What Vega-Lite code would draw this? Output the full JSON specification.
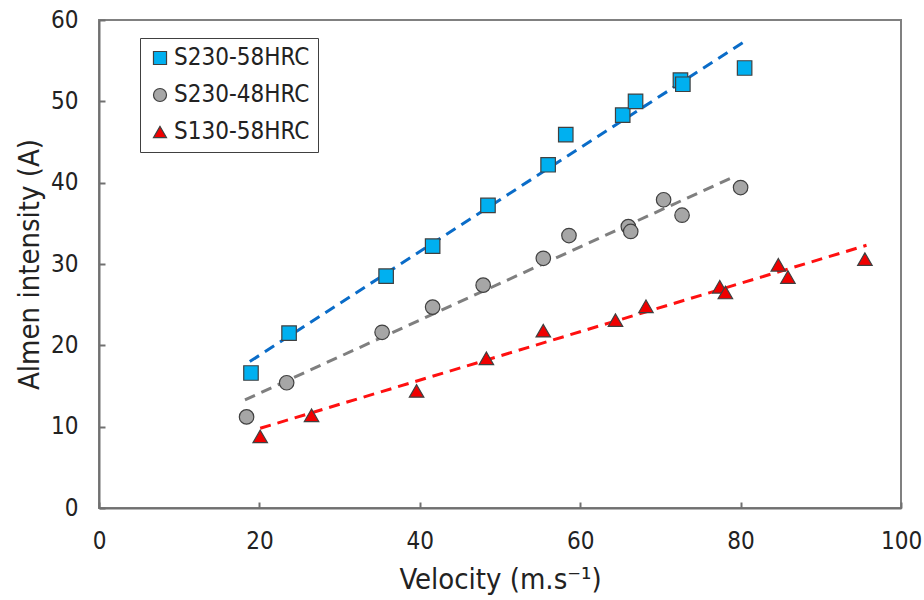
{
  "$schema": "https://vega.github.io/schema/vega-lite/v6.json",
  "width": 802,
  "height": 488,
  "autosize": {"type": "none"},
  "padding": {"left": 99, "top": 20, "right": 23, "bottom": 92},
  "background": "white",
  "config": {
    "view": {"stroke": "#808080", "strokeWidth": 2},
    "font": "DejaVu Sans Condensed",
    "axis": {
      "labelFont": "DejaVu Sans Condensed",
      "labelFontSize": 24,
      "labelColor": "#222222",
      "labelFlush": false,
      "titleFont": "DejaVu Sans Condensed",
      "titleFontSize": 29,
      "titleFontWeight": "normal",
      "titleColor": "#222222",
      "domainColor": "#707070",
      "domainWidth": 2,
      "tickColor": "#707070",
      "tickWidth": 2,
      "tickSize": -6,
      "grid": false
    },
    "legend": {
      "labelFont": "DejaVu Sans Condensed",
      "labelFontSize": 24,
      "labelColor": "#222222"
    }
  },
  "datasets": {
    "pts": [
      {"series": "S230-58HRC", "v": 18.95, "a": 16.6},
      {"series": "S230-58HRC", "v": 23.7, "a": 21.5},
      {"series": "S230-58HRC", "v": 35.8, "a": 28.5},
      {"series": "S230-58HRC", "v": 41.6, "a": 32.2},
      {"series": "S230-58HRC", "v": 48.5, "a": 37.2},
      {"series": "S230-58HRC", "v": 56.0, "a": 42.2},
      {"series": "S230-58HRC", "v": 58.2, "a": 45.9},
      {"series": "S230-58HRC", "v": 65.3, "a": 48.3},
      {"series": "S230-58HRC", "v": 66.9, "a": 50.0},
      {"series": "S230-58HRC", "v": 72.5, "a": 52.6},
      {"series": "S230-58HRC", "v": 72.8, "a": 52.1},
      {"series": "S230-58HRC", "v": 80.5, "a": 54.1},
      {"series": "S230-48HRC", "v": 18.4, "a": 11.2},
      {"series": "S230-48HRC", "v": 23.4, "a": 15.4},
      {"series": "S230-48HRC", "v": 35.3, "a": 21.6},
      {"series": "S230-48HRC", "v": 41.6, "a": 24.7},
      {"series": "S230-48HRC", "v": 47.9, "a": 27.4},
      {"series": "S230-48HRC", "v": 55.4, "a": 30.7},
      {"series": "S230-48HRC", "v": 58.6, "a": 33.5},
      {"series": "S230-48HRC", "v": 66.0, "a": 34.6},
      {"series": "S230-48HRC", "v": 66.3, "a": 34.0},
      {"series": "S230-48HRC", "v": 70.4, "a": 37.9},
      {"series": "S230-48HRC", "v": 72.7, "a": 36.0},
      {"series": "S230-48HRC", "v": 80.0, "a": 39.4},
      {"series": "S130-58HRC", "v": 20.1, "a": 8.8},
      {"series": "S130-58HRC", "v": 26.5, "a": 11.4},
      {"series": "S130-58HRC", "v": 39.6, "a": 14.4},
      {"series": "S130-58HRC", "v": 48.3, "a": 18.4},
      {"series": "S130-58HRC", "v": 55.4, "a": 21.8},
      {"series": "S130-58HRC", "v": 64.4, "a": 23.1},
      {"series": "S130-58HRC", "v": 68.2, "a": 24.8},
      {"series": "S130-58HRC", "v": 77.4, "a": 27.2},
      {"series": "S130-58HRC", "v": 78.1, "a": 26.5},
      {"series": "S130-58HRC", "v": 84.7, "a": 29.9},
      {"series": "S130-58HRC", "v": 85.9, "a": 28.4},
      {"series": "S130-58HRC", "v": 95.5, "a": 30.6}
    ],
    "trend": [
      {"fit": "S230-58HRC fit", "v": 18.8, "a": 18.0},
      {"fit": "S230-58HRC fit", "v": 80.4, "a": 57.3},
      {"fit": "S230-48HRC fit", "v": 18.2, "a": 13.3},
      {"fit": "S230-48HRC fit", "v": 79.1, "a": 40.7},
      {"fit": "S130-58HRC fit", "v": 20.1, "a": 9.8},
      {"fit": "S130-58HRC fit", "v": 95.7, "a": 32.3}
    ]
  },
  "layer": [
    {
      "data": {"name": "trend"},
      "mark": {"type": "line", "strokeWidth": 3, "strokeDash": [11, 7]},
      "encoding": {
        "x": {"field": "v", "type": "quantitative"},
        "y": {"field": "a", "type": "quantitative"},
        "stroke": {
          "field": "fit",
          "type": "nominal",
          "scale": {
            "domain": ["S230-58HRC fit", "S230-48HRC fit", "S130-58HRC fit"],
            "range": ["#0A6CC8", "#7F7F7F", "#FF1010"]
          },
          "legend": null
        }
      }
    },
    {
      "data": {"name": "pts"},
      "mark": {"type": "point", "filled": true, "size": 210, "stroke": "#404040", "strokeWidth": 1.2, "opacity": 1, "fillOpacity": 1, "strokeOpacity": 1},
      "encoding": {
        "x": {
          "field": "v",
          "type": "quantitative",
          "scale": {"domain": [0, 100], "nice": false},
          "axis": {"values": [0, 20, 40, 60, 80, 100], "labelPadding": 27, "titlePadding": 12},
          "title": "Velocity (m.s⁻¹)"
        },
        "y": {
          "field": "a",
          "type": "quantitative",
          "scale": {"domain": [0, 60], "nice": false},
          "axis": {"values": [0, 10, 20, 30, 40, 50, 60], "labelPadding": 27, "titlePadding": 6},
          "title": "Almen intensity (A)"
        },
        "fill": {
          "field": "series",
          "type": "nominal",
          "scale": {
            "domain": ["S230-58HRC", "S230-48HRC", "S130-58HRC"],
            "range": ["#00B0F0", "#A6A6A6", "#F00000"]
          },
          "legend": {
            "title": null,
            "orient": "none",
            "legendX": 41,
            "legendY": 18,
            "padding": 8,
            "strokeColor": "#404040",
            "fillColor": "white",
            "rowPadding": 13,
            "symbolSize": 170,
            "symbolStrokeColor": "#404040",
            "symbolStrokeWidth": 1.2,
            "labelOffset": 2
          }
        },
        "shape": {
          "field": "series",
          "type": "nominal",
          "scale": {
            "domain": ["S230-58HRC", "S230-48HRC", "S130-58HRC"],
            "range": ["square", "circle", "triangle-up"]
          }
        }
      }
    }
  ]
}
